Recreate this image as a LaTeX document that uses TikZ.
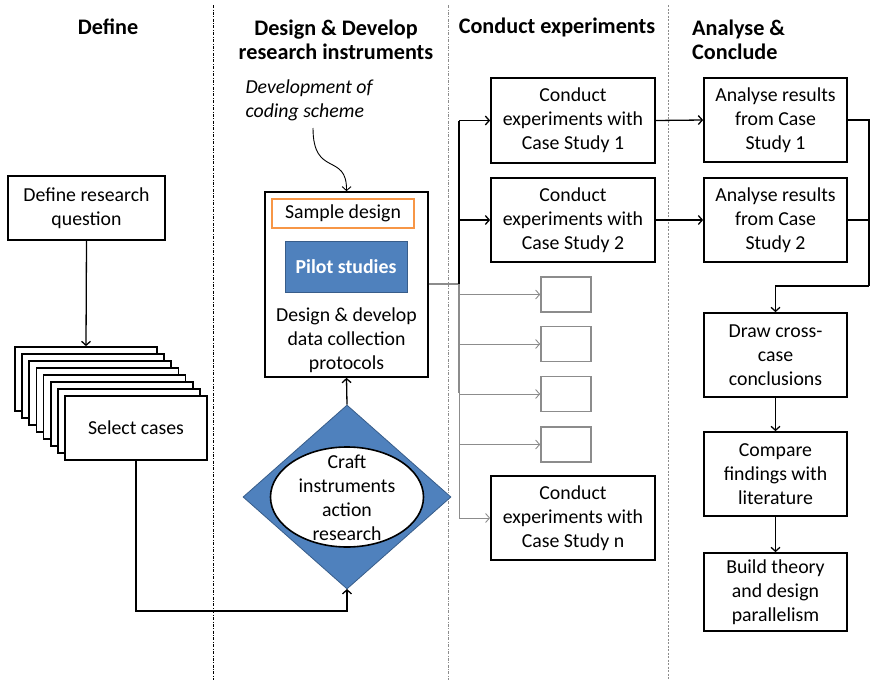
\documentclass[tikz,border=0pt]{standalone}
\usepackage{fontspec}
\setmainfont{Carlito}
\usetikzlibrary{arrows.meta,shapes.geometric}
\definecolor{obl}{HTML}{4F81BD}
\definecolor{obld}{HTML}{385D8A}
\definecolor{oor}{HTML}{F79646}
\definecolor{ogr}{HTML}{8C8C8C}
\begin{document}
\begin{tikzpicture}[x=1pt,y=-1pt,
  >={Straight Barb[length=4pt,width=9pt]},
  every node/.style={font=\fontsize{19.8}{24}\selectfont},
  hdr/.style={font=\fontsize{22.2}{24}\selectfont\bfseries, align=left, inner sep=0},
  bbox/.style={draw, line width=1.7pt, fill=white, align=center, inner sep=0},
  gbox/.style={draw=ogr, line width=1.6pt, minimum width=50pt, minimum height=35pt, inner sep=0},
  conn/.style={line width=1.3pt},
  gconn/.style={draw=ogr, line width=0.9pt},
  sep/.style={line width=0.6pt, dash pattern=on 3pt off 1.5pt on 0.8pt off 1.5pt}
]
\useasboundingbox (0,0) rectangle (871,680);
% separators
\draw[sep] (213.5,5) -- (213.5,680);
\draw[sep, draw=ogr] (448.5,5) -- (448.5,680);
\draw[line width=1pt, draw=ogr, dash pattern=on 2pt off 1.5pt] (668,5) -- (668,680);
% headers
\node[hdr, anchor=center] (h1) at (108,27) {Define};
\node[hdr, align=center] (h2) at (336,40) {Design \& Develop\\research instruments};
\node[hdr] (h3) at (557,27) {Conduct experiments};
\node[hdr, anchor=west] (h4) at (692,40) {Analyse \&\\Conclude};
% define column
\node[bbox, minimum width=157pt, minimum height=64pt] (drq) at (86.5,208) {Define research\\question};
\foreach \i in {0,...,6}{
  \node[bbox, minimum width=142pt, minimum height=64pt] (st\i) at ({86+7.14*\i},{379+7*\i}) {};
}
\node[bbox, minimum width=142pt, minimum height=64pt] (sel) at (136,428) {Select cases};
\draw[conn,->] (drq.south) -- (st0.north);
\draw[conn,->] (sel.south) -- (136,611) -- (347,611) -- (347,589);
% design column
\node[font=\fontsize{19.8}{24}\selectfont\itshape, align=left, anchor=west] (dcs) at (242,100) {Development of\\coding scheme};
\node[bbox, minimum width=163pt, minimum height=185pt] (big) at (346.5,284.5) {};
\node[draw=oor, line width=1.6pt, minimum width=142pt, minimum height=29pt, inner sep=0] (samp) at (343,213.5) {Sample design};
\node[draw=obld, line width=1pt, fill=obl, text=white, font=\fontsize{19.8}{24}\selectfont\bfseries, minimum width=122pt, minimum height=51pt, inner sep=0] (pilot) at (346,266.5) {Pilot studies};
\node[align=center, inner sep=0] (bigt) at (346.5,340) {Design \& develop\\data collection\\protocols};
\draw[line width=0.9pt,->] (313,128) .. controls (313,178) and (347,152) .. (big.north);
\node[diamond, draw=obld, line width=0.8pt, fill=obl, minimum width=208pt, minimum height=184pt, inner sep=0] (dia) at (347,497) {};
\node[ellipse, draw, line width=1.6pt, fill=white, minimum width=153pt, minimum height=100pt, inner sep=0] (ell) at (347,497) {};
\node[align=center, inner sep=0] (ellt) at (347,498) {Craft\\instruments\\action\\research};
\draw[conn,->] (dia.north) -- (big.south);
% conduct column
\node[bbox, minimum width=164pt, minimum height=85pt] (cs1) at (573,120.5) {Conduct\\experiments with\\Case Study 1};
\node[bbox, minimum width=164pt, minimum height=84pt] (cs2) at (573,220) {Conduct\\experiments with\\Case Study 2};
\node[bbox, minimum width=164pt, minimum height=84pt] (csn) at (573,518) {Conduct\\experiments with\\Case Study n};
\node[gbox] (g1) at (566,294.5) {};
\node[gbox] (g2) at (566,344) {};
\node[gbox] (g3) at (566,394) {};
\node[gbox] (g4) at (566,444.5) {};
\coordinate (br) at (459,284);
\draw[draw=ogr, line width=2.2pt] (big.east |- br) -- (br) -- (459,393);
\draw[gconn] (459,393) -- (459,518);
\draw[conn] (br) -- (459,120.5);
\draw[conn,->] (459,120.5) -- (cs1.west);
\draw[conn,->] (459,220) -- (cs2.west);
\draw[gconn,->] (459,294.5) -- (g1.west);
\draw[gconn,->] (459,344) -- (g2.west);
\draw[gconn,->] (459,394) -- (g3.west);
\draw[gconn,->] (459,444.5) -- (g4.west);
\draw[gconn,->] (459,518) -- (csn.west);
% analyse column
\node[bbox, minimum width=143pt, minimum height=84pt] (ar1) at (775.5,120) {Analyse results\\from Case\\Study 1};
\node[bbox, minimum width=143pt, minimum height=84pt] (ar2) at (775.5,220) {Analyse results\\from Case\\Study 2};
\node[bbox, minimum width=143pt, minimum height=84pt] (dcc) at (775.5,355) {Draw cross-\\case\\conclusions};
\node[bbox, minimum width=143pt, minimum height=84pt] (cmp) at (775.5,474) {Compare\\findings with\\literature};
\node[bbox, minimum width=143pt, minimum height=78pt] (bld) at (775.5,592) {Build theory\\and design\\parallelism};
\draw[conn,->] (cs1.east) -- (ar1.west);
\draw[conn,->] (cs2.east) -- (ar2.west);
\draw[conn] (ar1.east) -- (869,120) -- (869,286);
\draw[conn] (ar2.east) -- (869,220);
\draw[conn,->] (869,286) -- (775.5,286) -- (dcc.north);
\draw[conn,->] (dcc.south) -- (cmp.north);
\draw[conn,->] (cmp.south) -- (bld.north);
\end{tikzpicture}
\end{document}
